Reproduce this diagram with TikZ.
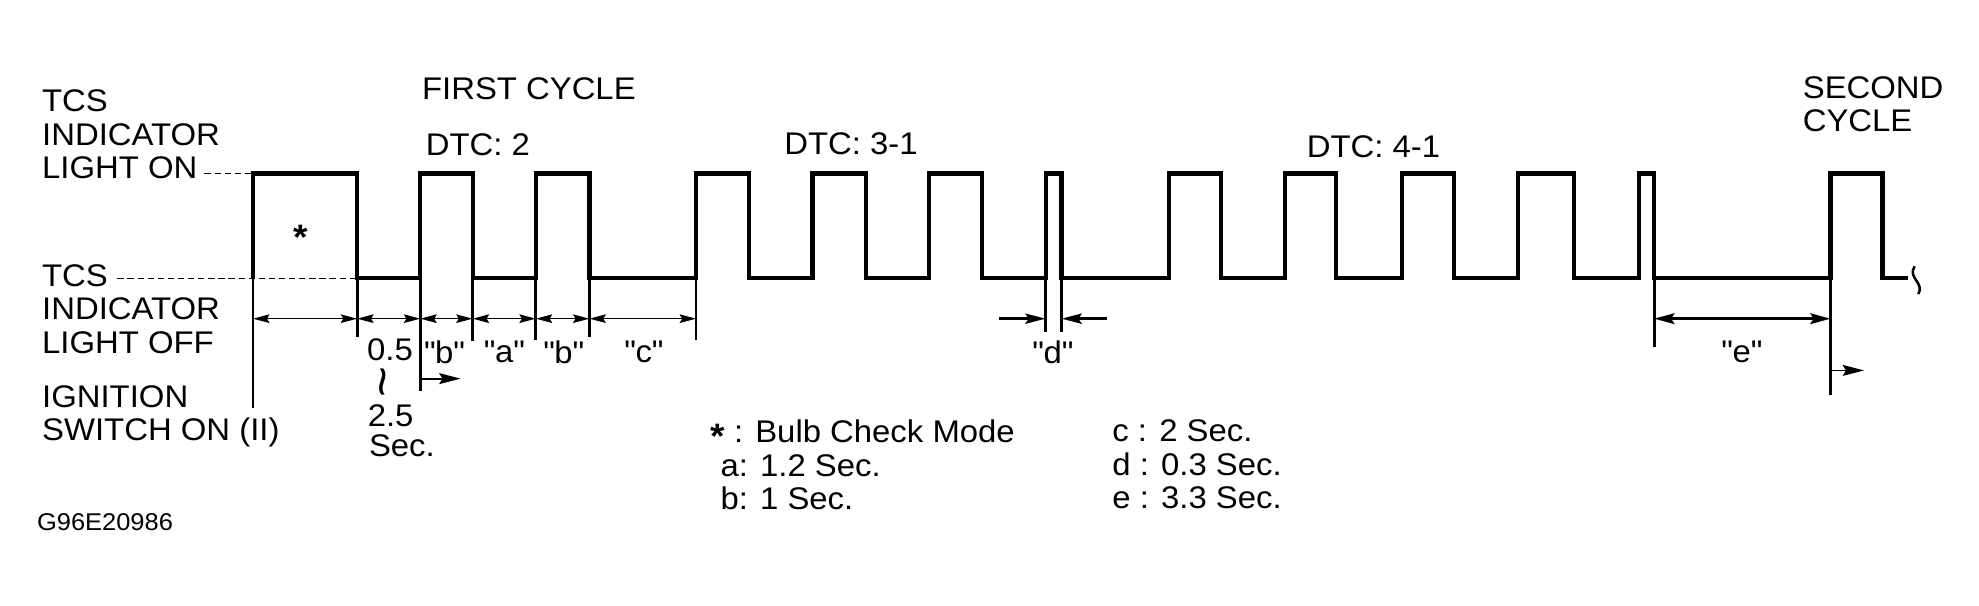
\documentclass[tikz,border=0pt]{standalone}
\usepackage{fontspec}
\setmainfont{Liberation Sans}[FakeStretch=1.05]
\usetikzlibrary{arrows.meta}

\newcommand{\chkstar}{\raisebox{-2pt}{\fontsize{14pt}{14pt}\selectfont\bfseries *}}
\newcommand{\qlbl}[1]{\textquotedbl#1\textquotedbl}

\begin{document}
\begin{tikzpicture}[
    x=0.5pt, y=-0.5pt,
    txt/.style={inner sep=0pt, align=left, font=\fontsize{12.4pt}{13.2pt}\selectfont},
    sigline/.style={draw, line width=1.7pt, line join=miter},
    tickline/.style={draw, line width=1.1pt},
    guide/.style={draw, line width=0.5pt, dash pattern=on 2.5pt off 1.5pt},
    dimarrow/.style={draw, {Stealth[length=6.5pt, width=3.4pt, inset=1pt]}-{Stealth[length=6.5pt, width=3.4pt, inset=1pt]}, line width=0.6pt},
    spanarrow/.style={draw, {Stealth[length=8pt, width=4.2pt, inset=1.3pt]}-{Stealth[length=8pt, width=4.2pt, inset=1.3pt]}, line width=1.3pt},
    gaparrow/.style={draw, -{Stealth[length=8pt, width=4pt, inset=1.3pt]}, line width=1.2pt},
    startarrow/.style={draw, -{Stealth[length=8.5pt, width=4.3pt, inset=1.3pt]}, line width=0.7pt}
]
    \useasboundingbox (0,0) rectangle (1568,480);

    % Level labels on the left
    \node [txt, anchor=west] (lblon) at (33,106.5) {TCS\\INDICATOR\\LIGHT ON};
    \node [txt, anchor=west] (lbloff) at (33,245) {TCS\\INDICATOR\\LIGHT OFF};
    \node [txt, anchor=west] (lblign) at (33,330) {IGNITION\\SWITCH ON (II)};

    % Level guides
    \draw [guide] (162,137.5) -- (199,137.5);
    \draw [guide] (93,220.5) -- (283,220.5);

    % Waveform
    \draw [sigline] (200.5,220.5)
        \foreach \x/\y in {283/137.5, 333/220.5, 374.5/137.5, 424.5/220.5, 467/137.5, 551.5/220.5,
                           593.5/137.5, 643.7/220.5, 686/137.5, 736/220.5, 778/137.5, 828.5/220.5,
                           841/137.5, 926.3/220.5, 967.6/137.5, 1018/220.5, 1058.5/137.5, 1111/220.5,
                           1152/137.5, 1203/220.5, 1247/137.5, 1298.7/220.5, 1310.6/137.5, 1450.4/220.5,
                           1491.5/137.5, 1512/220.5} { |- (\x,\y) };
    \draw [line width=1pt] (1517,211) .. controls (1511,220) and (1525,224) .. (1520,233);

    % Edge ticks below the low level
    \foreach \x/\y [count=\i from 0] in {200.5/323, 283/267, 333/310, 374.5/270, 424.5/269, 467/267,
                                         551.5/269, 828.5/263, 841/263, 1310.6/275, 1450.4/313} {
        \draw [tickline] (\x,220.5) -- (\x,\y);
        \coordinate (k\i) at (\x,252.5);
    }

    % Time spans
    \foreach \a/\b in {k0/k1, k1/k2, k2/k3, k3/k4, k4/k5, k5/k6}
        \draw [dimarrow] (\a) -- (\b);
    \draw [spanarrow] (k9) -- (k10);
    \coordinate (dl) at (791.5,252.5);
    \coordinate (dr) at (877,252.5);
    \draw [gaparrow] (dl) -- (k7);
    \draw [gaparrow] (dr) -- (k8);

    % Cycle starts
    \coordinate (s1) at (365,300);
    \coordinate (s2) at (1477,293.5);
    \draw [startarrow] (k2 |- s1) -- (s1);
    \draw [startarrow] (k10 |- s2) -- (s2);

    % Headings
    \node [txt, anchor=west] (first) at (334,70.5) {FIRST CYCLE};
    \node [txt, anchor=west] (dtc2) at (337,115) {DTC: 2};
    \node [txt, anchor=west] (dtc31) at (621,114) {DTC: 3-1};
    \node [txt, anchor=west] (dtc41) at (1035,116) {DTC: 4-1};
    \node [txt, anchor=west] (second) at (1428,82.5) {SECOND\\CYCLE};
    \node [txt, anchor=base] (star) at (238.5,193.7) {\chkstar};

    % Span labels
    \node [txt, anchor=west] (t05) at (290.5,277) {0.5};
    \node [txt, rotate=90, font=\fontsize{20pt}{20pt}\selectfont] (tilde) at (309,303) {\symbol{126}};
    \node [txt, anchor=west] (t25) at (291,329.5) {2.5};
    \node [txt, anchor=west] (tsec) at (292,353.5) {Sec.};
    \node [txt] (qb1) at (352,279) {\qlbl{b}};
    \node [txt] (qa) at (399.5,279) {\qlbl{a}};
    \node [txt] (qb2) at (446.5,279) {\qlbl{b}};
    \node [txt] (qc) at (510,279) {\qlbl{c}};
    \node [txt] (qd) at (834,279) {\qlbl{d}};
    \node [txt] (qe) at (1380,279) {\qlbl{e}};

    % Legend
    \node [txt, anchor=west] (legl) at (562.5,368.5)
        {\chkstar\ : Bulb Check Mode\\\hspace*{4pt}a: 1.2 Sec.\\\hspace*{4pt}b: 1 Sec.};
    \node [txt, anchor=west] (legr) at (881,368)
        {c : 2 Sec.\\d : 0.3 Sec.\\e : 3.3 Sec.};
    \node [txt, anchor=west, font=\fontsize{9.6pt}{11pt}\selectfont] (figid) at (29,413.5) {G96E20986};

\end{tikzpicture}
\end{document}
